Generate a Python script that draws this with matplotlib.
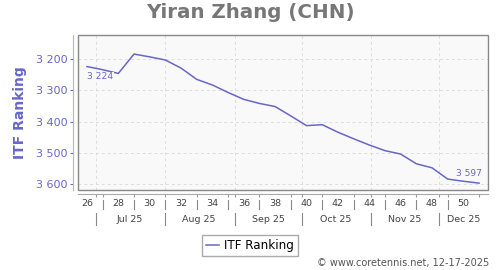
#!/usr/bin/env python

import datetime as dt
import matplotlib.pyplot as plt
import matplotlib.dates as mdates
from matplotlib.patches import Rectangle
from matplotlib.ticker import FuncFormatter

# weekly ITF ranking, ISO weeks 26..51 of 2025
weeks = list(range(26, 52))
ranking = [3224, 3234, 3246, 3184, 3193, 3203, 3229, 3265, 3283, 3307,
           3329, 3342, 3352, 3382, 3413, 3410, 3434, 3455, 3475, 3493,
           3504, 3535, 3548, 3584, 3591, 3597]
y_ticks = [3200, 3300, 3400, 3500, 3600]
month_labels = ["Jul 25", "Aug 25", "Sep 25", "Oct 25", "Nov 25", "Dec 25"]
month_starts = [dt.date(2025, m, 1) for m in range(7, 13)]

series_label = "ITF Ranking"
title = "Yiran Zhang (CHN)"
footer = "\u00a9 www.coretennis.net, 12-17-2025"

LINE = "#6666cc"
GRAY = "#444444"


def week_date(week):
    # friday of the ISO week
    return dt.date.fromisocalendar(2025, week, 5)


def ay(ypx):
    # pixel row below the plot frame -> axes fraction
    return (190 - ypx) / 155


def plot():
    fig = plt.figure(figsize=(5, 2.7), dpi=100)
    ax = fig.add_axes([78 / 500, 1 - 190 / 270, 410 / 500, 155 / 270])
    ax.set_facecolor("#f9f9f9")

    dates = [week_date(w) for w in weeks]
    ax.plot(dates, ranking, color=LINE, lw=1.1, label=series_label, zorder=3)

    x0 = dt.date(2025, 6, 23)
    x1 = dt.date(2025, 12, 23)
    ax.set_xlim(x0, x1)
    ax.set_ylim(3619, 3123)

    # frame + offset axis lines
    for s in ax.spines.values():
        s.set_visible(False)
    ax.add_patch(Rectangle((0, 0), 1, 1, transform=ax.transAxes, fill=False,
                           ec="#888888", lw=1.0, clip_on=False, zorder=4))
    ax.spines["left"].set_visible(True)
    ax.spines["left"].set_position(("outward", 3.5))
    ax.spines["left"].set_color("#b0b0e8")
    ax.spines["bottom"].set_visible(True)
    ax.spines["bottom"].set_position(("outward", 3))
    ax.spines["bottom"].set_color("#aaaaaa")

    ax.set_yticks(y_ticks)
    ax.yaxis.set_major_formatter(
        FuncFormatter(lambda v, p: f"{v:,.0f}".replace(",", " ")))
    ax.tick_params(axis="y", length=2.5, width=0.8, pad=1.5, colors=LINE,
                   labelsize=8)

    ax.set_xticks(month_starts)
    ax.set_xticks([week_date(w) for w in weeks if w % 2 == 1], minor=True)
    ax.tick_params(axis="x", which="both", length=2.5, width=0.8,
                   color="#999999", labelbottom=False)
    ax.grid(True, which="major", ls=(0, (3, 3)), color="#dddddd", lw=0.7)

    # week row and month row under the axis
    xt = ax.get_xaxis_transform()
    for w in weeks:
        if w % 2 == 0:
            ax.text(week_date(w), ay(204), str(w), transform=xt, ha="center",
                    va="center", fontsize=6.8, color=GRAY)
        elif w < 51:
            ax.plot([week_date(w)] * 2, [ay(200), ay(209)], transform=xt,
                    color="#888888", lw=0.8, clip_on=False)
    for i, m in enumerate(month_starts):
        end = month_starts[i + 1] if i + 1 < len(month_starts) else x1
        mid = m + (end - m) / 2
        ax.text(mid, ay(220), month_labels[i], transform=xt, ha="center",
                va="center", fontsize=6.8, color=GRAY)
        ax.plot([m, m], [ay(213), ay(225)], transform=xt, color="#888888",
                lw=0.8, clip_on=False)

    # first / last value labels
    fmt = lambda v: f"{v:,.0f}".replace(",", " ")
    ax.annotate(fmt(ranking[0]), (dates[0], ranking[0]), xytext=(0, -4),
                textcoords="offset points", ha="left", va="top",
                fontsize=6.6, color=LINE, zorder=5,
                bbox=dict(fc="#f9f9f9", ec="none", pad=0.3))
    ax.annotate(fmt(ranking[-1]), (dates[-1], ranking[-1]), xytext=(2, 4),
                textcoords="offset points", ha="right", va="bottom",
                fontsize=6.6, color=LINE, zorder=5)

    fig.text(0.5, 1 - 13 / 270, title, ha="center", va="center",
             fontsize=14.3, weight="bold", color="#777777")
    fig.text(20 / 500, 1 - 112.5 / 270, series_label, rotation=90,
             ha="center", va="center", fontsize=10, weight="bold", color=LINE)
    fig.legend(loc="center", bbox_to_anchor=(250 / 500, 1 - 245.5 / 270),
               fontsize=8.6, handlelength=1.1, handletextpad=0.45,
               borderpad=0.35, borderaxespad=0, fancybox=False,
               edgecolor="#aaaaaa", framealpha=1)
    fig.text(489 / 500, 1 - 263 / 270, footer, ha="right", va="center",
             fontsize=7, color="#555555")

    fig.savefig("out.png", dpi=100)


if __name__ == "__main__":
    plot()
